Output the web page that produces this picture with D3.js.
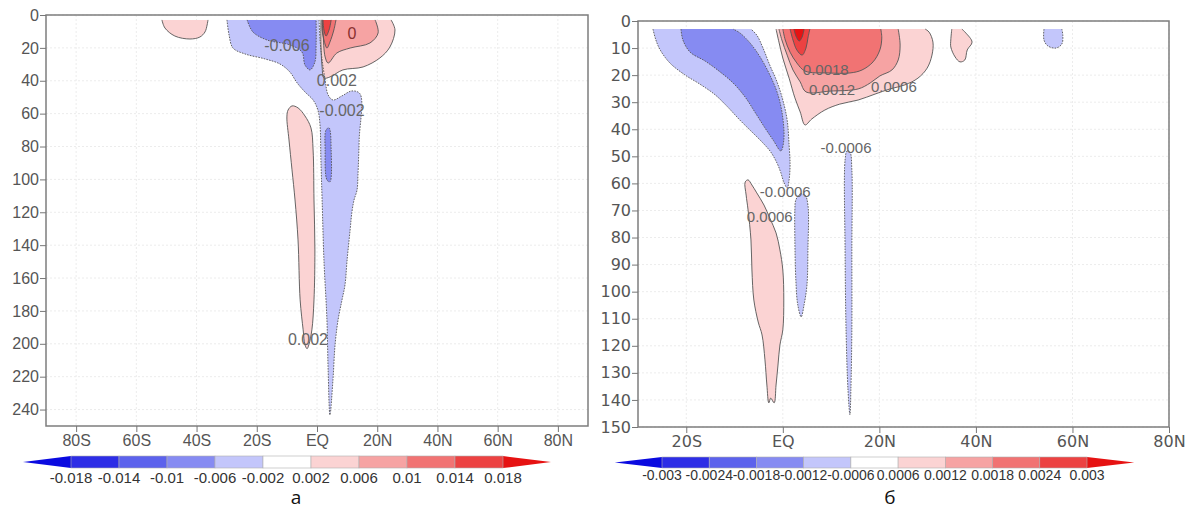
<!DOCTYPE html>
<html><head><meta charset="utf-8">
<script src="https://cdn.jsdelivr.net/npm/d3@7"></script>
<style>body{margin:0;background:#fff;} svg{display:block;}</style>
</head><body>
<svg id="c" width="1191" height="510"></svg>
<script>
// ---------- shared colour bands (below first level ... above last level)
const bandColors = ["#0a0ae0","#2d2de6","#5c62ec","#868bf2","#c3c6fb","#ffffff","#fbd3d3","#f6a3a3","#f17373","#ec4242","#e61212"];

// ---------- panel a
const levelsA = [-0.018,-0.014,-0.01,-0.006,-0.002,0.002,0.006,0.01,0.014,0.018];
const levelLabelsA = ["-0.018","-0.014","-0.01","-0.006","-0.002","0.002","0.006","0.01","0.014","0.018"];
const latTicksA = [-80,-60,-40,-20,0,20,40,60,80];
const latLabelsA = ["80S","60S","40S","20S","EQ","20N","40N","60N","80N"];
const depthTicksA = [0,20,40,60,80,100,120,140,160,180,200,220,240];

// contour regions, [latitude, depth]
const a_pos002_w = [[-51.5,3],[-50.5,7.9],[-47.2,12.8],[-42.2,14.6],[-38.9,13.4],[-37.2,10.3],[-36.5,6.1],[-36.2,3]];
const a_neg002 = [[-29.9,3],[-29.2,12.2],[-27.9,20.1],[-23.9,23.7],[-17.3,26.7],[-12.3,29.8],[-9.0,34.7],[-6.6,41.3],[-4.0,46.8],[-1.3,51.7],[0.3,57.8],[1.0,66.9],[1.3,88.1],[1.7,112.5],[2.3,148.9],[3.3,185.4],[3.7,215.8],[4.3,243.2],[5.3,221.9],[6.0,200.6],[7.0,185.4],[8.3,173.3],[9.3,164.1],[10.0,148.9],[11.0,130.7],[11.6,119.8],[12.3,112.5],[13.3,106.4],[13.6,97.3],[14.0,76.0],[14.3,48.0],[11.6,46.2],[8.3,49.2],[5.3,51.7],[3.7,48.6],[2.7,39.5],[1.7,27.4],[1.0,15.2],[0.7,3]];
const a_neg006 = [[-23.2,3],[-21.3,10.3],[-16.6,15.2],[-9.0,18.2],[-5.0,22.5],[-4.0,30.4],[-2.3,33.4],[-0.7,28.6],[-0.3,18.2],[-0.3,3]];
const a_neg006_s = [[3.0,69.9],[4.0,68.7],[4.7,82.1],[4.3,101.5],[3.3,100.3],[2.7,82.1]];
const a_pos002_t = [[-10.0,62.0],[-9.6,57.8],[-8.3,55.3],[-6.3,56.5],[-4.0,61.4],[-2.0,68.7],[-1.3,82.1],[-1.0,112.5],[-0.7,142.9],[-1.0,173.3],[-1.7,191.5],[-2.7,200.6],[-3.3,203.0],[-4.0,200.6],[-4.6,191.5],[-5.6,173.3],[-6.3,136.8],[-7.3,112.5],[-8.3,94.2],[-9.3,76.0]];
const a_pos002_e = [[1.3,3],[1.3,18.2],[1.7,31.6],[2.3,38.3],[4.3,37.7],[8.6,33.4],[15.3,31.6],[20.9,26.1],[24.2,19.5],[25.9,9.1],[24.6,3]];
const a_pos006 = [[1.7,3],[2.0,10.9],[2.7,25.5],[3.7,29.2],[6.6,23.1],[11.0,20.1],[17.6,17.0],[20.3,10.9],[19.3,3]];
const a_pos010 = [[1.7,3],[1.7,9.1],[2.3,15.2],[3.3,20.1],[4.3,16.4],[5.6,9.1],[6.3,3]];
const a_pos014 = [[2.0,3],[2.3,9.1],[3.0,12.8],[4.0,9.1],[4.7,3]];

const regionsA = [
  {pts:a_pos002_w, level:0.002, top:true},
  {pts:a_neg002, level:-0.002, top:true},
  {pts:a_pos002_t, level:0.002, top:false},
  {pts:a_pos002_e, level:0.002, top:true},
  {pts:a_neg006, level:-0.006, top:true},
  {pts:a_neg006_s, level:-0.006, top:false},
  {pts:a_pos006, level:0.006, top:true},
  {pts:a_pos010, level:0.01, top:true},
  {pts:a_pos014, level:0.014, top:true}
];
const labelTextA = ["-0.006","0.002","-0.002","0.002","0"];
const labelLatA = [-10.0,6.6,8.3,-3.0,11.6];
const labelDepthA = [18.2,39.5,57.8,197.6,10.9];

// ---------- panel б
const levelsB = [-0.003,-0.0024,-0.0018,-0.0012,-0.0006,0.0006,0.0012,0.0018,0.0024,0.003];
const levelLabelsB = ["-0.003","-0.0024","-0.0018","-0.0012","-0.0006","0.0006","0.0012","0.0018","0.0024","0.003"];
const latTicksB = [-20,0,20,40,60,80];
const latLabelsB = ["20S","EQ","20N","40N","60N","80N"];
const depthTicksB = [0,10,20,30,40,50,60,70,80,90,100,110,120,130,140,150];

const b_neg0006 = [[-26.9,3],[-26.3,7.0],[-25.4,10.7],[-23.4,15.5],[-20.3,19.9],[-17.2,23.3],[-14.0,27.3],[-11.4,31.8],[-8.9,36.6],[-6.4,41.0],[-4.1,45.1],[-2.5,48.4],[-1.2,52.5],[-0.4,56.1],[0.2,59.5],[0.9,61.7],[1.3,58.7],[1.5,53.2],[1.3,45.8],[0.9,36.6],[0.0,29.2],[-1.2,22.5],[-2.7,16.3],[-4.1,10.0],[-5.4,5.2],[-6.6,3]];
const b_neg0012 = [[-21.1,3],[-20.7,7.0],[-19.2,11.5],[-16.1,14.8],[-13.0,18.8],[-10.3,22.9],[-7.8,28.1],[-5.8,33.6],[-3.7,39.5],[-2.0,44.0],[-0.4,48.0],[0.2,44.0],[0.0,35.8],[-1.0,27.3],[-2.7,19.9],[-4.7,13.3],[-6.8,8.1],[-8.9,4.4],[-10.3,3]];
const b_neg0006_c = [[54.1,3],[54.1,7.0],[54.9,9.2],[56.6,10.0],[57.8,8.5],[58.0,5.2],[57.8,3]];
const b_neg0006_d = [[2.7,66.1],[3.6,63.9],[4.6,64.3],[5.2,68.0],[5.2,84.6],[5.0,97.5],[4.4,104.9],[3.8,109.3],[3.1,104.9],[2.7,95.7],[2.5,80.9],[2.5,69.8]];
const b_neg0006_e = [[12.9,51.3],[13.3,48.0],[13.9,48.4],[14.3,55.0],[14.3,84.6],[14.3,114.1],[14.1,136.3],[13.9,145.5],[13.5,136.3],[13.1,114.1],[12.9,84.6]];
const b_pos0006 = [[-1.4,3],[-0.8,7.8],[0.0,13.7],[1.3,21.1],[2.5,28.4],[3.6,33.6],[4.6,38.4],[6.0,36.2],[8.7,32.9],[11.8,30.7],[15.6,29.2],[19.1,27.0],[22.2,25.1],[25.3,23.6],[28.0,21.1],[29.9,17.4],[30.9,12.6],[31.1,7.8],[30.3,4.1],[29.5,3]];
const b_pos0006_b = [[35.0,3],[34.8,7.0],[34.8,9.6],[35.7,13.3],[36.7,15.1],[37.7,14.4],[38.2,10.7],[39.2,7.8],[37.9,4.4],[37.1,3]];
const b_pos0006_c = [[-7.8,59.5],[-7.2,58.7],[-6.4,60.6],[-5.4,63.5],[-3.9,68.0],[-2.7,72.8],[-1.4,78.3],[-0.6,84.6],[0.0,92.0],[0.2,103.1],[0.0,114.1],[-0.6,119.7],[-1.0,127.1],[-1.4,134.5],[-1.8,141.1],[-2.5,139.3],[-2.9,141.1],[-3.3,134.5],[-3.7,125.2],[-4.3,116.0],[-5.1,111.2],[-6.0,103.1],[-6.4,92.0],[-6.6,80.9],[-7.2,69.8],[-7.6,64.3]];
const b_pos0012 = [[-0.8,3],[-0.2,7.0],[0.9,12.6],[2.1,18.1],[3.6,22.5],[4.8,26.2],[9.8,25.9],[15.6,25.1],[18.1,22.9],[20.1,20.3],[22.6,18.1],[23.9,14.4],[24.3,8.9],[23.9,3]];
const b_pos0018 = [[0.0,3],[0.5,7.0],[1.5,11.5],[2.9,15.5],[4.6,18.5],[9.4,19.2],[13.9,19.2],[16.4,18.1],[18.7,15.1],[20.1,10.7],[20.5,6.3],[20.3,3]];
const b_pos0024 = [[1.5,3],[2.1,7.0],[2.9,10.7],[4.0,12.6],[4.8,10.0],[5.2,6.3],[5.6,3]];
const b_pos003 = [[2.3,3],[2.7,5.5],[3.4,7.4],[4.0,5.9],[4.4,3]];

const regionsB = [
  {pts:b_neg0006, level:-0.0006, top:true},
  {pts:b_neg0006_c, level:-0.0006, top:true},
  {pts:b_neg0006_d, level:-0.0006, top:false},
  {pts:b_neg0006_e, level:-0.0006, top:false},
  {pts:b_neg0012, level:-0.0012, top:true},
  {pts:b_pos0006, level:0.0006, top:true},
  {pts:b_pos0006_b, level:0.0006, top:true},
  {pts:b_pos0006_c, level:0.0006, top:false},
  {pts:b_pos0012, level:0.0012, top:true},
  {pts:b_pos0018, level:0.0018, top:true},
  {pts:b_pos0024, level:0.0024, top:true},
  {pts:b_pos003, level:0.003, top:true}
];
const labelTextB = ["0.0018","0.0012","0.0006","-0.0006","-0.0006","0.0006"];
const labelLatB = [8.9,10.2,23.0,13.1,0.5,-2.7];
const labelDepthB = [18.1,25.5,24.4,46.9,63.2,72.4];

// ---------- drawing
const svg = d3.select("#c");

function drawPanel(p) {
  const g = svg.append("g");
  const [x0, x1] = p.x.range();
  const [y0, y1] = p.y.range();
  const clipId = "clip" + p.id;
  svg.append("clipPath").attr("id", clipId).append("rect")
    .attr("x", x0).attr("y", y0).attr("width", x1 - x0).attr("height", y1 - y0);

  // faint grid
  g.append("g").selectAll("line").data(p.xTicks).join("line")
    .attr("x1", d => p.x(d)).attr("x2", d => p.x(d)).attr("y1", y0).attr("y2", y1)
    .attr("stroke", "#ececec").attr("stroke-dasharray", "2,2");
  g.append("g").selectAll("line").data(p.yTicks).join("line")
    .attr("y1", d => p.y(d)).attr("y2", d => p.y(d)).attr("x1", x0).attr("x2", x1)
    .attr("stroke", "#ececec").attr("stroke-dasharray", "2,2");

  const plot = g.append("g").attr("clip-path", `url(#${clipId})`);
  const lineOpen = d3.line().x(d => p.x(d[0])).y(d => p.y(d[1])).curve(d3.curveCatmullRom.alpha(0.5));
  const lineClosed = d3.line().x(d => p.x(d[0])).y(d => p.y(d[1])).curve(d3.curveCatmullRomClosed.alpha(0.5));

  const strokes = [];
  p.regions.forEach(r => {
    const idx = p.levels.indexOf(r.level);
    const band = r.level < 0 ? idx : idx + 1;
    const ds = r.top ? lineOpen(r.pts) : lineClosed(r.pts);
    plot.append("path").attr("d", r.top ? ds + "Z" : ds).attr("fill", bandColors[band]);
    strokes.push({d: ds, neg: r.level < 0});
  });
  strokes.forEach(s => {
    plot.append("path").attr("d", s.d).attr("fill", "none")
      .attr("stroke", "#555").attr("stroke-width", 0.9)
      .attr("stroke-dasharray", s.neg ? "1.6,1.2" : null);
  });

  // contour labels
  plot.append("g").selectAll("text").data(p.labelText).join("text")
    .attr("x", (d, i) => p.x(p.labelLat[i]))
    .attr("y", (d, i) => p.y(p.labelDepth[i]))
    .attr("dy", "0.35em").attr("text-anchor", "middle")
    .attr("font-family", "'Liberation Sans', Arial, sans-serif")
    .attr("font-size", p.labelSize)
    .attr("fill", d => d === "0" ? "#8a3030" : "#666")
    .text(d => d);

  // frame
  g.append("rect").attr("x", x0).attr("y", y0).attr("width", x1 - x0).attr("height", y1 - y0)
    .attr("fill", "none").attr("stroke", "#7d7d7d").attr("stroke-width", 1.5);

  // axes
  const ay = g.append("g").attr("transform", `translate(${x0},0)`)
    .call(d3.axisLeft(p.y).tickValues(p.yTicks).tickSize(6).tickPadding(p.yPad).tickFormat(d3.format("d")));
  const ax = g.append("g").attr("transform", `translate(0,${y1})`)
    .call(d3.axisBottom(p.x).tickValues(p.xTicks).tickSize(6).tickPadding(3).tickFormat((d, i) => p.xLabels[i]));
  [ay, ax].forEach(a => {
    a.select(".domain").remove();
    a.selectAll(".tick line").attr("stroke", "#777");
    a.selectAll(".tick text").attr("fill", "#555")
      .attr("font-family", p.tickFont).attr("font-size", 16);
  });

  // colour bar
  const n = p.levels.length;
  const cb = d3.scaleLinear([0, n - 1], p.cbRange);
  const step = cb(1) - cb(0);
  const cy0 = p.cbY, cy1 = p.cbY + p.cbH, cym = (cy0 + cy1) / 2;
  const cbg = g.append("g");
  cbg.append("path")
    .attr("d", `M${cb(0)},${cy0}L${cb(0) - step},${cym}L${cb(0)},${cy1}Z`)
    .attr("fill", bandColors[0]);
  cbg.append("path")
    .attr("d", `M${cb(n - 1)},${cy0}L${cb(n - 1) + step},${cym}L${cb(n - 1)},${cy1}Z`)
    .attr("fill", bandColors[n]);
  cbg.selectAll("rect").data(d3.range(1, n)).join("rect")
    .attr("x", i => cb(i - 1)).attr("y", cy0).attr("width", step).attr("height", p.cbH)
    .attr("fill", i => bandColors[i]).attr("stroke", "#b0b0b0").attr("stroke-width", 0.6);
  cbg.selectAll("text").data(p.levelLabels).join("text")
    .attr("x", (d, i) => cb(i)).attr("y", p.cbTextY).attr("text-anchor", "middle")
    .attr("font-family", "'Liberation Sans', Arial, sans-serif")
    .attr("font-size", p.cbFont).attr("fill", "#333").text(d => d);

  // panel letter
  g.append("text").attr("x", p.letterX).attr("y", 504).attr("text-anchor", "middle")
    .attr("font-family", "'Open Sans', 'DejaVu Sans', sans-serif").attr("font-size", 19)
    .attr("fill", "#111").text(p.letter);
}

drawPanel({
  id: "A",
  x: d3.scaleLinear([-90, 90], [46, 588]),
  y: d3.scaleLinear([0, 250], [15, 426]),
  xTicks: latTicksA, xLabels: latLabelsA, yTicks: depthTicksA, yPad: 1,
  tickFont: "'Liberation Sans', Arial, sans-serif",
  regions: regionsA, levels: levelsA, levelLabels: levelLabelsA,
  labelText: labelTextA, labelLat: labelLatA, labelDepth: labelDepthA, labelSize: 16,
  cbRange: [71, 503], cbY: 456, cbH: 12, cbTextY: 483, cbFont: 15,
  letter: "а", letterX: 296
});

drawPanel({
  id: "B",
  x: d3.scaleLinear([-30, 80], [638, 1169]),
  y: d3.scaleLinear([0, 150], [21, 427]),
  xTicks: latTicksB, xLabels: latLabelsB, yTicks: depthTicksB, yPad: 1,
  tickFont: "'DejaVu Sans', sans-serif",
  regions: regionsB, levels: levelsB, levelLabels: levelLabelsB,
  labelText: labelTextB, labelLat: labelLatB, labelDepth: labelDepthB, labelSize: 15,
  cbRange: [662, 1087], cbY: 457, cbH: 11, cbTextY: 480, cbFont: 14,
  letter: "б", letterX: 890
});
</script>
</body></html>
